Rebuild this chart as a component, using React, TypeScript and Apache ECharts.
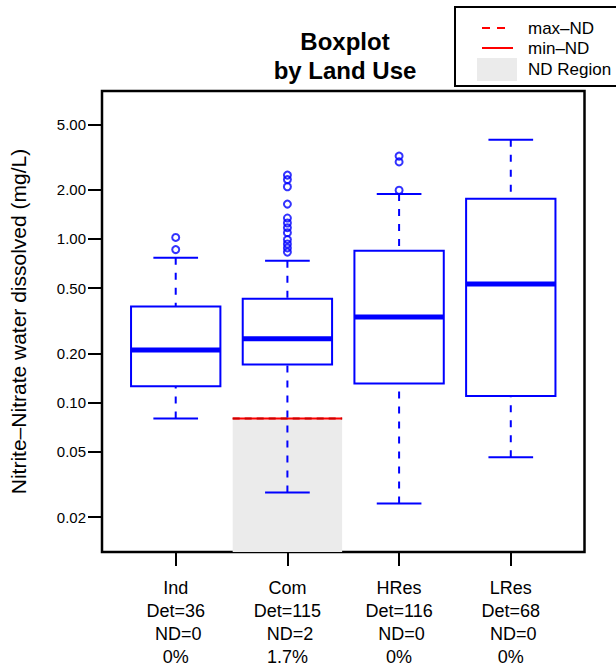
import React, { useEffect, useRef } from "react";
import * as echarts from "echarts";

const categories = ["Ind", "Com", "HRes", "LRes"];
const detCounts = [36, 115, 116, 68];
const ndCounts = [0, 2, 0, 0];
const ndPercents = ["0%", "1.7%", "0%", "0%"];
// box statistics per category
const boxLower = [0.08, 0.0283, 0.0242, 0.0464];
const boxQ1 = [0.126, 0.171, 0.131, 0.11];
const boxMedian = [0.21, 0.246, 0.333, 0.531];
const boxQ3 = [0.387, 0.431, 0.845, 1.76];
const boxUpper = [0.766, 0.734, 1.88, 4.02];
const outliers: number[][] = [
  [1.02, 0.86],
  [2.45, 2.3, 2.08, 1.63, 1.34, 1.25, 1.17, 1.09, 0.99, 0.93, 0.88, 0.83],
  [3.2, 2.95, 1.98],
  [],
];
const ndMaxValues: (number | null)[] = [null, 0.08, null, null];
const ndMinValues: (number | null)[] = [null, 0.08, null, null];
const yTicks = [0.02, 0.05, 0.1, 0.2, 0.5, 1, 2, 5];
const yMin = 0.01226;
const yMax = 7.99;
const xTicks = [1, 2, 3, 4];

const FONT = '"Liberation Sans", Arial, Helvetica, sans-serif';
const BLUE = "#0000FF";
const RED = "#FF0000";
const ND_FILL = "#EBEBEB";

export default function App() {
  const ref = useRef<HTMLDivElement>(null);
  useEffect(() => {
    if (!ref.current) return;
    const chart = echarts.init(ref.current, null, { renderer: "svg" });

    const boxData = categories.map((_, i) => [
      i + 1,
      boxLower[i],
      boxQ1[i],
      boxMedian[i],
      boxQ3[i],
      boxUpper[i],
    ]);
    const outlierData: number[][] = [];
    outliers.forEach((arr, i) => arr.forEach((v) => outlierData.push([i + 1, v])));
    const ndData: number[][] = [];
    categories.forEach((_, i) => {
      const mx = ndMaxValues[i];
      const mn = ndMinValues[i];
      if (mx != null && mn != null) ndData.push([i + 1, mx, mn]);
    });

    const option: any = {
      animation: false,
      backgroundColor: "#fff",
      textStyle: { fontFamily: FONT },
      grid: {
        left: 101.5,
        right: 31.5,
        top: 91,
        bottom: 115.5,
        show: true,
        borderColor: "#000",
        borderWidth: 2.5,
        backgroundColor: "transparent",
      },
      xAxis: {
        type: "value",
        min: 0.34,
        max: 4.66,
        splitLine: { show: false },
        axisLine: { show: false },
        axisTick: {
          show: true,
          customValues: xTicks,
          length: 14,
          lineStyle: { color: "#000", width: 2 },
        },
        axisLabel: {
          customValues: xTicks,
          margin: 24,
          color: "#000",
          fontSize: 18,
          lineHeight: 23,
          fontFamily: FONT,
          formatter: (v: number) => {
            const i = Math.round(v) - 1;
            if (i < 0 || i >= categories.length) return "";
            return [
              categories[i],
              "Det=" + detCounts[i],
              " ND=" + ndCounts[i],
              ndPercents[i],
            ].join("\n");
          },
        },
      },
      yAxis: {
        type: "log",
        logBase: 10,
        min: yMin,
        max: yMax,
        name: "Nitrite\u2013Nitrate water dissolved (mg/L)",
        nameLocation: "middle",
        nameGap: 73,
        nameTextStyle: { fontSize: 21, color: "#000", fontFamily: FONT },
        splitLine: { show: false },
        minorTick: { show: false },
        axisLine: { show: false },
        axisTick: {
          show: true,
          customValues: yTicks,
          length: 14,
          lineStyle: { color: "#000", width: 2 },
        },
        axisLabel: {
          customValues: yTicks,
          margin: 16,
          color: "#000",
          fontSize: 15,
          fontFamily: FONT,
          formatter: (v: number) => Number(v).toFixed(2),
        },
      },
      series: [
        {
          type: "custom",
          name: "ND",
          z: 1,
          data: ndData,
          renderItem: (params: any, api: any) => {
            const x = api.value(0);
            const mx = api.value(1);
            const mn = api.value(2);
            const pL = api.coord([x - 0.49, mx]);
            const pR = api.coord([x + 0.49, mx]);
            const yMinLine = api.coord([x, mn])[1];
            const bottom = params.coordSys.y + params.coordSys.height;
            return {
              type: "group",
              children: [
                {
                  type: "rect",
                  shape: { x: pL[0], y: pL[1], width: pR[0] - pL[0], height: bottom - pL[1] },
                  style: { fill: ND_FILL, stroke: null },
                },
                {
                  type: "line",
                  shape: { x1: pL[0], y1: yMinLine, x2: pR[0], y2: yMinLine },
                  style: { stroke: RED, lineWidth: 2 },
                },
                {
                  type: "line",
                  shape: { x1: pL[0], y1: pL[1], x2: pR[0], y2: pR[1] },
                  style: { stroke: "#D00000", lineWidth: 2, lineDash: [7, 5] },
                },
              ],
            };
          },
        },
        {
          type: "custom",
          name: "box",
          z: 3,
          data: boxData,
          renderItem: (params: any, api: any) => {
            const x = api.value(0);
            const lo = api.value(1);
            const q1 = api.value(2);
            const med = api.value(3);
            const q3 = api.value(4);
            const hi = api.value(5);
            const pTL = api.coord([x - 0.4, q3]);
            const pBR = api.coord([x + 0.4, q1]);
            const pMed = api.coord([x, med]);
            const yLo = api.coord([x, lo])[1];
            const yHi = api.coord([x, hi])[1];
            const capL = api.coord([x - 0.2, lo])[0];
            const capR = api.coord([x + 0.2, lo])[0];
            const cx = pMed[0];
            const dashed = { stroke: BLUE, lineWidth: 2, lineDash: [7, 8] };
            const solid = { stroke: BLUE, lineWidth: 2 };
            return {
              type: "group",
              children: [
                { type: "line", shape: { x1: cx, y1: yHi, x2: cx, y2: pTL[1] }, style: dashed },
                { type: "line", shape: { x1: cx, y1: yLo, x2: cx, y2: pBR[1] }, style: dashed },
                { type: "line", shape: { x1: capL, y1: yHi, x2: capR, y2: yHi }, style: solid },
                { type: "line", shape: { x1: capL, y1: yLo, x2: capR, y2: yLo }, style: solid },
                {
                  type: "rect",
                  shape: { x: pTL[0], y: pTL[1], width: pBR[0] - pTL[0], height: pBR[1] - pTL[1] },
                  style: { fill: "#fff", stroke: BLUE, lineWidth: 2 },
                },
                {
                  type: "line",
                  shape: { x1: pTL[0], y1: pMed[1], x2: pBR[0], y2: pMed[1] },
                  style: { stroke: BLUE, lineWidth: 5 },
                },
              ],
            };
          },
        },
        {
          type: "scatter",
          name: "outliers",
          z: 4,
          data: outlierData,
          symbol: "circle",
          symbolSize: 7,
          itemStyle: { color: "rgba(0,0,0,0)", borderColor: BLUE, borderWidth: 2 },
          emphasis: { disabled: true },
        },
      ],
      graphic: [
        {
          type: "text",
          style: {
            text: "Boxplot",
            x: 345,
            y: 41,
            textAlign: "center",
            textVerticalAlign: "middle",
            font: `bold 24px ${FONT}`,
            fill: "#000",
          },
        },
        {
          type: "text",
          style: {
            text: "by Land Use",
            x: 345,
            y: 70,
            textAlign: "center",
            textVerticalAlign: "middle",
            font: `bold 24px ${FONT}`,
            fill: "#000",
          },
        },
        {
          type: "rect",
          shape: { x: 455, y: 7, width: 175, height: 79 },
          style: { fill: "#fff", stroke: "#000", lineWidth: 2 },
        },
        {
          type: "line",
          shape: { x1: 482, y1: 28, x2: 505, y2: 28 },
          style: { stroke: RED, lineWidth: 2, lineDash: [8, 7] },
        },
        {
          type: "line",
          shape: { x1: 482, y1: 48, x2: 513, y2: 48 },
          style: { stroke: RED, lineWidth: 2 },
        },
        {
          type: "rect",
          shape: { x: 477, y: 58, width: 40, height: 23 },
          style: { fill: ND_FILL },
        },
        {
          type: "text",
          style: { text: "max\u2013ND", x: 528, y: 28, textVerticalAlign: "middle", font: `17px ${FONT}`, fill: "#000" },
        },
        {
          type: "text",
          style: { text: "min\u2013ND", x: 528, y: 48, textVerticalAlign: "middle", font: `17px ${FONT}`, fill: "#000" },
        },
        {
          type: "text",
          style: { text: "ND Region", x: 528, y: 69, textVerticalAlign: "middle", font: `17px ${FONT}`, fill: "#000" },
        },
      ],
    };
    chart.setOption(option);
    return () => chart.dispose();
  }, []);
  return (
    <div
      ref={ref}
      style={{ position: "fixed", left: 0, top: 0, width: 616, height: 668, background: "#fff" }}
    />
  );
}
